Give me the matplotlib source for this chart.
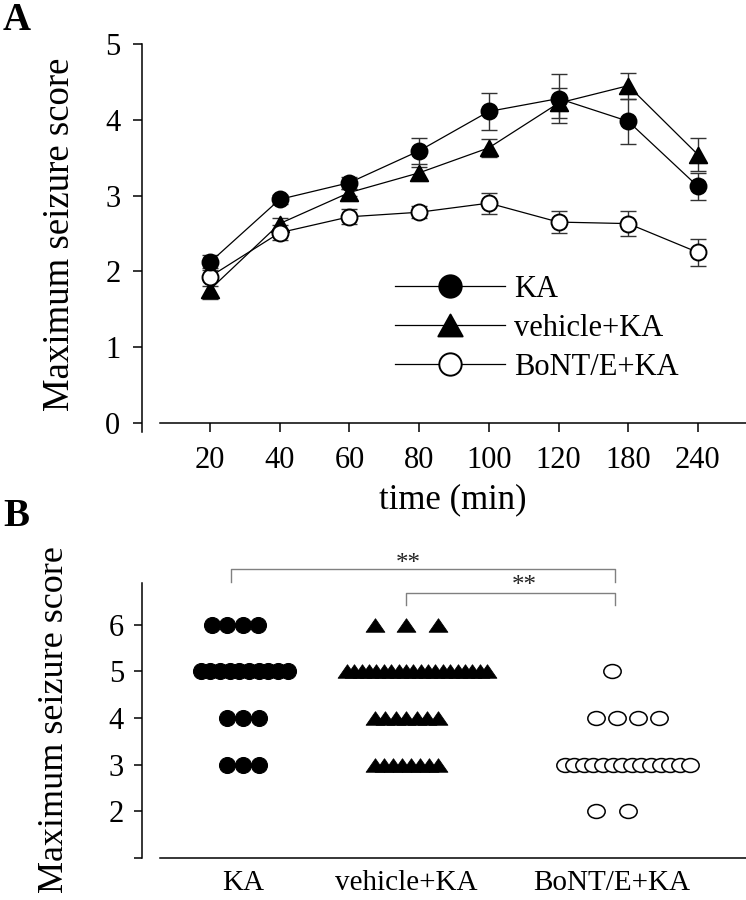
import matplotlib
matplotlib.use('Agg')
import matplotlib.pyplot as plt
import numpy as np
from matplotlib.path import Path

plt.rcParams['font.family'] = ['Liberation Serif', 'DejaVu Serif']

# ---- panel A data: mean max seizure score (+/- SEM) per time point
times = ['20', '40', '60', '80', '100', '120', '180', '240']
ka_mean = [2.12, 2.95, 3.17, 3.59, 4.11, 4.28, 3.98, 3.12]
ka_sem = [0.10, 0.06, 0.08, 0.17, 0.25, 0.32, 0.30, 0.18]
veh_mean = [1.76, 2.63, 3.04, 3.30, 3.63, 4.22, 4.45, 3.54]
veh_sem = [0.12, 0.07, 0.05, 0.08, 0.12, 0.20, 0.17, 0.22]
bont_mean = [1.93, 2.51, 2.72, 2.78, 2.90, 2.65, 2.63, 2.25]
bont_sem = [0.12, 0.10, 0.10, 0.08, 0.14, 0.15, 0.16, 0.18]

# ---- panel B data: number of animals reaching each max score
groups = ['KA', 'vehicle+KA', 'BoNT/E+KA']
ka_scores = [6, 5, 4, 3]
ka_n = [4, 10, 3, 3]
veh_scores = [6, 5, 4, 3]
veh_n = [3, 20, 7, 8]
bont_scores = [5, 4, 3, 2]
bont_n = [1, 4, 14, 2]

W, H = 746, 900
fig = plt.figure(figsize=(W / 100, H / 100), dpi=100)


def px_axes(l, t, r, b):
    return fig.add_axes([l / W, 1 - b / H, (r - l) / W, (b - t) / H])


def shape(sx, sy, kind):
    if kind == 'tri':
        verts = [(0, sy), (-sx, -sy), (sx, -sy), (0, sy)]
        return Path(verts, [Path.MOVETO, Path.LINETO, Path.LINETO, Path.CLOSEPOLY])
    c = Path.unit_circle()
    return Path(c.vertices * [sx, sy], c.codes)


triA = shape(1.0, 0.9, 'tri')
triB = shape(1.0, 0.72, 'tri')
ellB = shape(1.0, 0.8, 'circ')

# ================= panel A =================
axA = px_axes(142, 44, 746, 432)
x = np.arange(len(times))

series = [
    (veh_mean, veh_sem, triA, 'black', 'vehicle+KA'),
    (bont_mean, bont_sem, 'o', 'white', 'BoNT/E+KA'),
    (ka_mean, ka_sem, 'o', 'black', 'KA'),
]
handles = {}
for mean, sem, mk, fc, lab in series:
    axA.errorbar(x, mean, yerr=sem, fmt='none', ecolor='#333333',
                 elinewidth=1.0, capsize=6, capthick=1.0, zorder=2)
    h, = axA.plot(x, mean, '-', color='black', lw=0.9, marker=mk,
                  ms=12.5 if mk is triA else 11.5, mfc=fc, mec='black',
                  mew=1.4, label=lab, zorder=3)
    handles[lab] = h

axA.set_xlim(-0.976, 7.69)
axA.set_ylim(-0.12, 5)
for s in ['top', 'right']:
    axA.spines[s].set_visible(False)
axA.spines['bottom'].set_position(('data', 0))
axA.spines['bottom'].set_bounds(-0.717, 7.69)
axA.spines['left'].set_bounds(-0.12, 5)
for s in ['bottom', 'left']:
    axA.spines[s].set_linewidth(1.1)
axA.set_xticks(x)
axA.set_xticklabels(times)
axA.set_yticks(range(0, 6))
axA.tick_params(axis='both', direction='out', length=6.5, width=1.1,
                labelsize=22)
axA.tick_params(axis='y', pad=9)
axA.tick_params(axis='x', pad=10)

leg = axA.legend([handles[k] for k in ['KA', 'vehicle+KA', 'BoNT/E+KA']],
                 ['KA', 'vehicle+KA', 'BoNT/E+KA'],
                 loc='upper left', bbox_to_anchor=(395 / W, 1 - 275 / H),
                 bbox_transform=fig.transFigure, frameon=False, fontsize=22,
                 handlelength=3.6, handletextpad=0.3, labelspacing=0.33,
                 borderpad=0, borderaxespad=0, markerscale=1.4)

fig.text(60 / W, 1 - 234 / H, 'Maximum seizure score', rotation=90,
         ha='center', va='center', fontsize=26.5)
fig.text(453 / W, 1 - 500 / H, 'time (min)', ha='center', va='center',
         fontsize=25)
fig.text(17 / W, 1 - 20 / H, 'A', ha='center', va='center', fontsize=28,
         fontweight='bold')

# ================= panel B =================
axB = px_axes(142, 583, 746, 858)
axB.set_xlim(142, 746)
axB.set_ylim(1, 6.89)

# group centres and per-row (centre shift, spread) in layout units
centres = [243, 406, 612]
rows = [
    {6: (-8, 46), 5: (1, 87), 4: (0, 32), 3: (0, 32)},
    {6: (0, 63), 5: (11, 140), 4: (0, 63), 3: (0, 63)},
    {5: (0, 0), 4: (15, 63), 3: (15, 125), 2: (0, 32)},
]
styles = [
    dict(marker='o', ms=11.5, mfc='black', mec='black', mew=0.8),
    dict(marker=triB, ms=13.5, mfc='black', mec='black', mew=0.6),
    dict(marker=ellB, ms=12.5, mfc='white', mec='black', mew=1.1),
]
for c, lay, sc, nn, st in zip(centres, rows, [ka_scores, veh_scores, bont_scores],
                              [ka_n, veh_n, bont_n], styles):
    for score, n in zip(sc, nn):
        off, span = lay[score]
        xs = c + off + (np.linspace(-span / 2, span / 2, n) if n > 1 else np.zeros(1))
        axB.plot(xs, np.full(n, score), linestyle='none', clip_on=False, **st)

for s in ['top', 'right']:
    axB.spines[s].set_visible(False)
axB.spines['bottom'].set_bounds(160, 746)
for s in ['bottom', 'left']:
    axB.spines[s].set_linewidth(1.1)
axB.set_yticks(range(1, 7))
axB.set_yticklabels(['', '2', '3', '4', '5', '6'])
axB.set_xticks(centres)
axB.set_xticklabels(groups)
axB.tick_params(axis='y', direction='out', length=6, width=1.1,
                labelsize=22, pad=7)
axB.tick_params(axis='x', length=0, labelsize=21, pad=9)

# significance brackets
br = '#808080'
axB.plot([231, 231, 615, 615], [6.91, 7.19, 7.19, 6.91], color=br, lw=1.0,
         clip_on=False)
axB.plot([406, 406, 615, 615], [6.42, 6.67, 6.67, 6.42], color=br, lw=1.0,
         clip_on=False)
axB.text(408, 7.30, '**', ha='center', va='center', fontsize=18,
         color='#222222', clip_on=False)
axB.text(524, 6.83, '**', ha='center', va='center', fontsize=18,
         color='#222222', clip_on=False)

fig.text(55 / W, 1 - 720 / H, 'Maximum seizure score', rotation=90,
         ha='center', va='center', fontsize=26)
fig.text(16 / W, 1 - 517 / H, 'B', ha='center', va='center', fontsize=28,
         fontweight='bold')

fig.savefig('out.png', dpi=100)
